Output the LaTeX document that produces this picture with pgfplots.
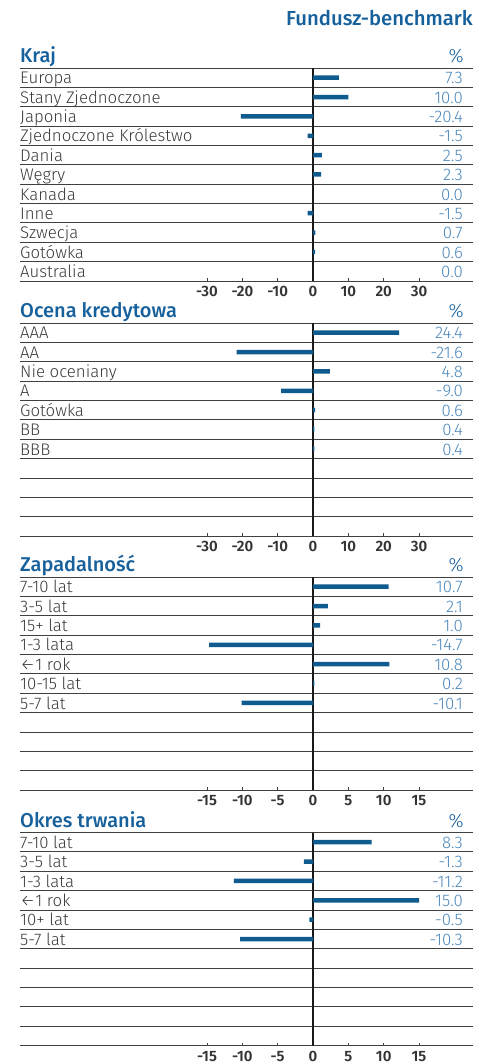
\documentclass[border=0pt]{standalone}
\usepackage{fontspec}
\setmainfont{Fira Sans}[UprightFont={* Light}, BoldFont={* Medium}]
\newfontfamily\semib{Fira Sans SemiBold}
\usepackage{pgfplots}
\pgfplotsset{compat=1.18}
\definecolor{barblue}{HTML}{0F5A8E}
\definecolor{valblue}{HTML}{4A86BA}
\definecolor{titleblue}{HTML}{16609C}
\definecolor{lbl}{HTML}{3A3A3A}
\definecolor{rule}{HTML}{404040}
\pgfplotsset{
  panel/.style={
    scale only axis, width=453pt, height=213pt,
    ymin=-0.5, ymax=10.5, y dir=reverse,
    ytick={-0.5,0.5,...,10.5}, yticklabels={}, ymajorgrids,
    major grid style={draw=rule, line width=0.8pt},
    ytick style={draw=none},
    axis line style={draw=none},
    xtick pos=lower, tick align=inside, major tick length=3pt,
    xtick style={draw=rule, line width=0.8pt},
    xticklabel style={font=\semib\fontsize{15}{15}\selectfont, text=lbl!90!black, anchor=base, yshift=-15.8pt},
    /pgf/number format/assume math mode=true,
    extra x ticks={0}, extra x tick labels={},
    extra x tick style={grid=major, major grid style={draw=black!90, line width=1.2pt}, major tick length=0pt},
    clip=false,
    xbar, bar width=4.5pt,
  },
  wide/.style={xmin=-82.93, xmax=45.28, xtick={-30,-20,-10,0,10,20,30}},
  narrow/.style={xmin=-41.46, xmax=22.64, xtick={-15,-10,-5,0,5,10,15}},
}
\tikzset{
  rlab/.style={anchor=base west, inner sep=0pt, text=lbl, font=\fontsize{16.8}{16.8}\selectfont, yshift=-6.2pt},
  rval/.style={anchor=base east, inner sep=0pt, text=valblue, font=\fontsize{16.8}{16.8}\selectfont, yshift=-6.2pt, xshift=-10pt},
  ptitle/.style={anchor=base west, inner sep=0pt, text=titleblue, font=\bfseries\fontsize{20}{20}\selectfont, yshift=5pt},
  ppct/.style={anchor=base east, inner sep=0pt, text=titleblue, font=\fontsize{19}{19}\selectfont, yshift=5pt, xshift=-9pt},
}
\newcommand{\rl}[3]{%
  \node[rlab] at ({axis description cs:0,0} |- {axis cs:0,#1}) {#2};
  \node[rval] at ({axis description cs:1,0} |- {axis cs:0,#1}) {#3};
}
\begin{document}
\begin{tikzpicture}
\useasboundingbox (0,0) rectangle (489pt,1064pt);
\node[anchor=base east, inner sep=0pt, text=titleblue, font=\bfseries\fontsize{20.3}{20.3}\selectfont] at (473pt,1038pt) {Fundusz-benchmark};

% Panel 1: Kraj
\begin{axis}[panel, wide, at={(20pt,783pt)}, anchor=south west]
\addplot[fill=barblue, draw=none] coordinates {
(7.3,0) (10.0,1) (-20.4,2) (-1.5,3) (2.5,4) (2.3,5) (0.0,6) (-1.5,7) (0.7,8) (0.6,9) (0.0,10)};
\node[ptitle] at (axis description cs:0,1) {Kraj};
\node[ppct] at (axis description cs:1,1) {\%};
\rl{0}{Europa}{7.3}
\rl{1}{Stany Zjednoczone}{10.0}
\rl{2}{Japonia}{-20.4}
\rl{3}{Zjednoczone Królestwo}{-1.5}
\rl{4}{Dania}{2.5}
\rl{5}{Węgry}{2.3}
\rl{6}{Kanada}{0.0}
\rl{7}{Inne}{-1.5}
\rl{8}{Szwecja}{0.7}
\rl{9}{Gotówka}{0.6}
\rl{10}{Australia}{0.0}
\end{axis}

% Panel 2: Ocena kredytowa
\begin{axis}[panel, wide, at={(20pt,528pt)}, anchor=south west]
\addplot[fill=barblue, draw=none] coordinates {
(24.4,0) (-21.6,1) (4.8,2) (-9.0,3) (0.6,4) (0.4,5) (0.4,6)};
\node[ptitle] at (axis description cs:0,1) {Ocena kredytowa};
\node[ppct] at (axis description cs:1,1) {\%};
\rl{0}{AAA}{24.4}
\rl{1}{AA}{-21.6}
\rl{2}{Nie oceniany}{4.8}
\rl{3}{A}{-9.0}
\rl{4}{Gotówka}{0.6}
\rl{5}{BB}{0.4}
\rl{6}{BBB}{0.4}
\end{axis}

% Panel 3: Zapadalnosc
\begin{axis}[panel, narrow, at={(20pt,274pt)}, anchor=south west]
\addplot[fill=barblue, draw=none] coordinates {
(10.7,0) (2.1,1) (1.0,2) (-14.7,3) (10.8,4) (0.2,5) (-10.1,6)};
\node[ptitle] at (axis description cs:0,1) {Zapadalność};
\node[ppct] at (axis description cs:1,1) {\%};
\rl{0}{7-10 lat}{10.7}
\rl{1}{3-5 lat}{2.1}
\rl{2}{15+ lat}{1.0}
\rl{3}{1-3 lata}{-14.7}
\rl{4}{←1 rok}{10.8}
\rl{5}{10-15 lat}{0.2}
\rl{6}{5-7 lat}{-10.1}
\end{axis}

% Panel 4: Okres trwania
\begin{axis}[panel, narrow, at={(20pt,18.5pt)}, anchor=south west]
\addplot[fill=barblue, draw=none] coordinates {
(8.3,0) (-1.3,1) (-11.2,2) (15.0,3) (-0.5,4) (-10.3,5)};
\node[ptitle] at (axis description cs:0,1) {Okres trwania};
\node[ppct] at (axis description cs:1,1) {\%};
\rl{0}{7-10 lat}{8.3}
\rl{1}{3-5 lat}{-1.3}
\rl{2}{1-3 lata}{-11.2}
\rl{3}{←1 rok}{15.0}
\rl{4}{10+ lat}{-0.5}
\rl{5}{5-7 lat}{-10.3}
\end{axis}
\end{tikzpicture}
\end{document}
